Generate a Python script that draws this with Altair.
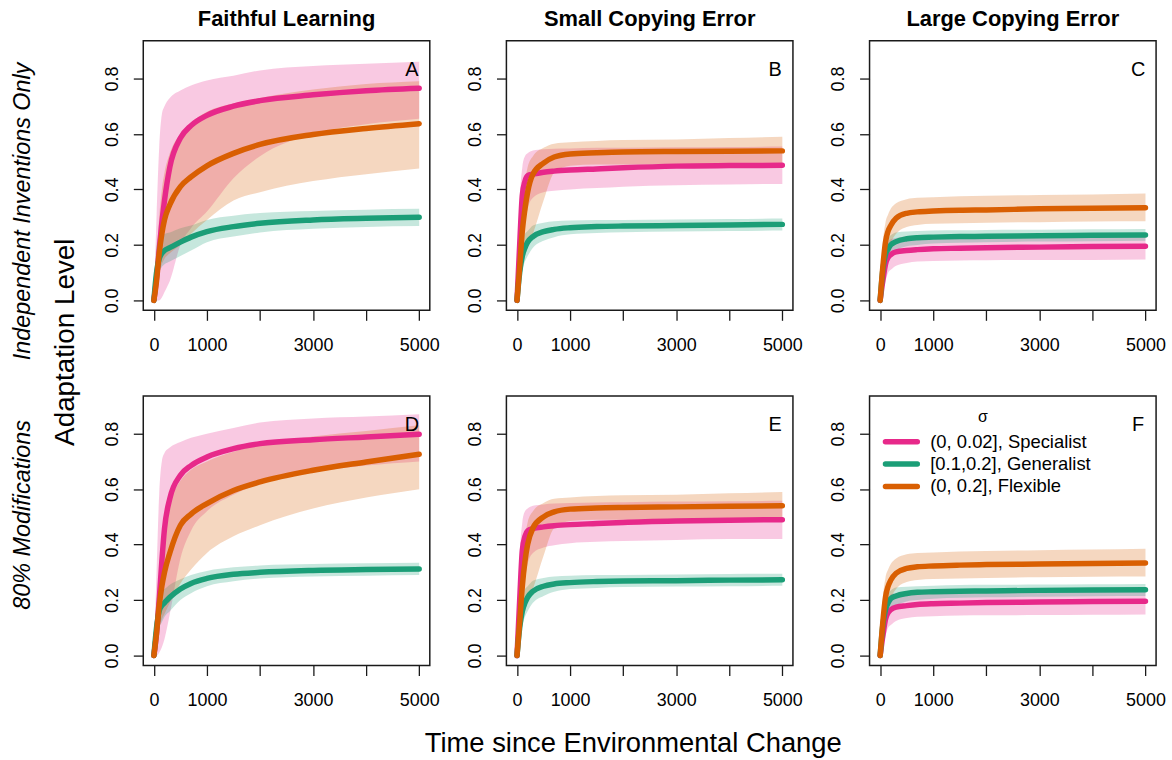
import altair as alt
import pandas as pd

FONT = "Liberation Sans"

# ---------------- data ----------------
T = [0, 50, 100, 150, 200, 300, 500, 700, 1000, 1500, 2000, 3000, 4000, 5000]
SERIES = ["(0, 0.02], Specialist", "[0.1,0.2], Generalist", "(0, 0.2], Flexible"]
COLORS = ["#E7298A", "#1B9E77", "#D95F02"]
COLUMN_TITLES = ["Faithful Learning", "Small Copying Error", "Large Copying Error"]
ROW_TITLES = ["Independent Inventions Only", "80% Modifications"]
LETTERS = ["A", "B", "C", "D", "E", "F"]
X_TICKS = [0, 1000, 2000, 3000, 4000, 5000]
X_LABELED = [0, 1000, 3000, 5000]
Y_TICKS = [0.0, 0.2, 0.4, 0.6, 0.8]
Y_TITLE = "Adaptation Level"
X_TITLE = "Time since Environmental Change"
LEGEND_TITLE = "σ"

# Panel A: Faithful Learning / Independent Inventions Only
A_spec    = [0, 0.08, 0.18, 0.28, 0.36, 0.48, 0.585, 0.63, 0.667, 0.70, 0.72, 0.741, 0.756, 0.765]
A_spec_lo = [0, 0.00, 0.00, 0.01, 0.03, 0.07, 0.20, 0.26, 0.32, 0.44, 0.52, 0.60, 0.635, 0.655]
A_spec_hi = [0, 0.30, 0.55, 0.67, 0.70, 0.73, 0.757, 0.775, 0.793, 0.81, 0.829, 0.845, 0.853, 0.86]
A_gen     = [0, 0.10, 0.15, 0.17, 0.18, 0.19, 0.21, 0.228, 0.248, 0.266, 0.278, 0.29, 0.296, 0.30]
A_gen_lo  = [0, 0.05, 0.10, 0.12, 0.13, 0.14, 0.16, 0.18, 0.21, 0.23, 0.245, 0.258, 0.265, 0.268]
A_gen_hi  = [0, 0.20, 0.23, 0.235, 0.24, 0.245, 0.26, 0.27, 0.29, 0.305, 0.315, 0.322, 0.327, 0.33]
A_flex    = [0, 0.07, 0.17, 0.24, 0.29, 0.345, 0.41, 0.445, 0.485, 0.53, 0.562, 0.598, 0.62, 0.637]
A_flex_lo = [0, 0.03, 0.10, 0.13, 0.15, 0.17, 0.20, 0.24, 0.29, 0.36, 0.39, 0.43, 0.455, 0.475]
A_flex_hi = [0, 0.15, 0.30, 0.40, 0.46, 0.53, 0.60, 0.64, 0.68, 0.71, 0.73, 0.76, 0.78, 0.79]

# Panel B: Small Copying Error / Independent Inventions Only
B_spec    = [0, 0.20, 0.38, 0.43, 0.45, 0.455, 0.462, 0.466, 0.47, 0.474, 0.478, 0.484, 0.486, 0.487]
B_spec_lo = [0, 0.08, 0.20, 0.28, 0.33, 0.37, 0.39, 0.395, 0.40, 0.405, 0.41, 0.415, 0.418, 0.42]
B_spec_hi = [0, 0.35, 0.48, 0.52, 0.53, 0.54, 0.545, 0.547, 0.548, 0.55, 0.55, 0.552, 0.553, 0.555]
B_gen     = [0, 0.10, 0.16, 0.19, 0.21, 0.23, 0.248, 0.256, 0.262, 0.266, 0.268, 0.27, 0.272, 0.274]
B_gen_lo  = [0, 0.06, 0.11, 0.14, 0.16, 0.19, 0.215, 0.228, 0.238, 0.243, 0.246, 0.248, 0.25, 0.252]
B_gen_hi  = [0, 0.18, 0.22, 0.24, 0.25, 0.27, 0.28, 0.285, 0.288, 0.29, 0.29, 0.292, 0.293, 0.295]
B_flex    = [0, 0.12, 0.25, 0.33, 0.39, 0.455, 0.495, 0.517, 0.528, 0.532, 0.535, 0.537, 0.538, 0.539]
B_flex_lo = [0, 0.05, 0.12, 0.16, 0.19, 0.24, 0.36, 0.46, 0.485, 0.49, 0.49, 0.49, 0.49, 0.49]
B_flex_hi = [0, 0.20, 0.35, 0.43, 0.48, 0.52, 0.55, 0.565, 0.57, 0.575, 0.578, 0.58, 0.585, 0.59]

# Panel C: Large Copying Error / Independent Inventions Only
C_spec    = [0, 0.07, 0.13, 0.155, 0.165, 0.175, 0.18, 0.183, 0.186, 0.188, 0.19, 0.192, 0.194, 0.195]
C_spec_lo = [0, 0.03, 0.07, 0.10, 0.11, 0.125, 0.135, 0.14, 0.142, 0.144, 0.145, 0.146, 0.146, 0.147]
C_spec_hi = [0, 0.12, 0.19, 0.21, 0.22, 0.225, 0.23, 0.232, 0.234, 0.236, 0.237, 0.238, 0.239, 0.24]
C_gen     = [0, 0.11, 0.165, 0.185, 0.20, 0.212, 0.222, 0.226, 0.228, 0.23, 0.231, 0.233, 0.235, 0.236]
C_gen_lo  = [0, 0.06, 0.12, 0.15, 0.165, 0.18, 0.195, 0.20, 0.205, 0.208, 0.21, 0.212, 0.213, 0.215]
C_gen_hi  = [0, 0.18, 0.21, 0.225, 0.235, 0.245, 0.248, 0.25, 0.252, 0.253, 0.254, 0.255, 0.256, 0.257]
C_flex    = [0, 0.12, 0.21, 0.25, 0.27, 0.296, 0.314, 0.319, 0.322, 0.325, 0.326, 0.33, 0.332, 0.334]
C_flex_lo = [0, 0.06, 0.14, 0.19, 0.21, 0.24, 0.265, 0.272, 0.276, 0.278, 0.28, 0.282, 0.284, 0.285]
C_flex_hi = [0, 0.20, 0.28, 0.31, 0.33, 0.35, 0.365, 0.37, 0.372, 0.375, 0.377, 0.38, 0.382, 0.385]

# Panel D: Faithful Learning / 80% Modifications
D_spec    = [0, 0.08, 0.20, 0.34, 0.457, 0.566, 0.65, 0.685, 0.716, 0.746, 0.764, 0.778, 0.788, 0.798]
D_spec_lo = [0, 0.00, 0.01, 0.03, 0.06, 0.15, 0.35, 0.45, 0.52, 0.58, 0.62, 0.66, 0.685, 0.70]
D_spec_hi = [0, 0.30, 0.58, 0.70, 0.73, 0.75, 0.77, 0.785, 0.80, 0.82, 0.84, 0.855, 0.862, 0.87]
D_gen     = [0, 0.10, 0.16, 0.18, 0.19, 0.21, 0.24, 0.26, 0.278, 0.293, 0.30, 0.307, 0.31, 0.312]
D_gen_lo  = [0, 0.05, 0.10, 0.12, 0.14, 0.16, 0.20, 0.225, 0.25, 0.268, 0.278, 0.285, 0.288, 0.29]
D_gen_hi  = [0, 0.20, 0.23, 0.235, 0.24, 0.255, 0.275, 0.29, 0.305, 0.318, 0.325, 0.33, 0.333, 0.335]
D_flex    = [0, 0.08, 0.18, 0.25, 0.30, 0.37, 0.47, 0.51, 0.548, 0.595, 0.626, 0.668, 0.698, 0.726]
D_flex_lo = [0, 0.03, 0.10, 0.13, 0.15, 0.19, 0.26, 0.31, 0.37, 0.43, 0.47, 0.53, 0.57, 0.60]
D_flex_hi = [0, 0.16, 0.30, 0.40, 0.47, 0.55, 0.63, 0.67, 0.70, 0.735, 0.76, 0.79, 0.81, 0.83]

# Panel E: Small Copying Error / 80% Modifications
E_spec    = [0, 0.20, 0.38, 0.43, 0.45, 0.458, 0.464, 0.468, 0.472, 0.476, 0.48, 0.485, 0.488, 0.49]
E_spec_lo = [0, 0.08, 0.20, 0.28, 0.33, 0.37, 0.39, 0.398, 0.405, 0.41, 0.413, 0.417, 0.42, 0.42]
E_spec_hi = [0, 0.35, 0.48, 0.52, 0.53, 0.54, 0.545, 0.548, 0.55, 0.552, 0.553, 0.555, 0.556, 0.558]
E_gen     = [0, 0.10, 0.16, 0.19, 0.21, 0.232, 0.25, 0.258, 0.263, 0.267, 0.269, 0.27, 0.272, 0.273]
E_gen_lo  = [0, 0.06, 0.11, 0.14, 0.16, 0.19, 0.215, 0.23, 0.24, 0.244, 0.247, 0.249, 0.25, 0.252]
E_gen_hi  = [0, 0.18, 0.22, 0.24, 0.25, 0.27, 0.28, 0.285, 0.288, 0.29, 0.29, 0.292, 0.294, 0.295]
E_flex    = [0, 0.12, 0.25, 0.34, 0.40, 0.46, 0.50, 0.518, 0.528, 0.532, 0.534, 0.536, 0.538, 0.54]
E_flex_lo = [0, 0.05, 0.12, 0.16, 0.19, 0.24, 0.36, 0.46, 0.485, 0.49, 0.49, 0.49, 0.49, 0.49]
E_flex_hi = [0, 0.20, 0.35, 0.43, 0.48, 0.52, 0.55, 0.565, 0.57, 0.575, 0.578, 0.58, 0.585, 0.59]

# Panel F: Large Copying Error / 80% Modifications
F_spec    = [0, 0.07, 0.13, 0.155, 0.165, 0.175, 0.18, 0.184, 0.187, 0.189, 0.191, 0.193, 0.195, 0.196]
F_spec_lo = [0, 0.03, 0.07, 0.10, 0.11, 0.125, 0.135, 0.14, 0.142, 0.144, 0.145, 0.146, 0.147, 0.148]
F_spec_hi = [0, 0.12, 0.19, 0.21, 0.22, 0.225, 0.23, 0.232, 0.234, 0.236, 0.237, 0.238, 0.239, 0.24]
F_gen     = [0, 0.11, 0.165, 0.19, 0.205, 0.215, 0.224, 0.228, 0.23, 0.232, 0.233, 0.235, 0.236, 0.237]
F_gen_lo  = [0, 0.06, 0.12, 0.15, 0.165, 0.18, 0.195, 0.20, 0.205, 0.208, 0.21, 0.212, 0.214, 0.215]
F_gen_hi  = [0, 0.18, 0.21, 0.225, 0.235, 0.245, 0.248, 0.25, 0.252, 0.254, 0.255, 0.256, 0.257, 0.258]
F_flex    = [0, 0.12, 0.21, 0.25, 0.272, 0.297, 0.314, 0.32, 0.323, 0.326, 0.328, 0.33, 0.332, 0.334]
F_flex_lo = [0, 0.06, 0.14, 0.19, 0.21, 0.24, 0.265, 0.272, 0.276, 0.278, 0.28, 0.282, 0.284, 0.285]
F_flex_hi = [0, 0.20, 0.28, 0.31, 0.33, 0.35, 0.365, 0.37, 0.372, 0.375, 0.377, 0.38, 0.382, 0.385]

PANEL_DATA = {
    "A": [(A_spec, A_spec_lo, A_spec_hi), (A_gen, A_gen_lo, A_gen_hi), (A_flex, A_flex_lo, A_flex_hi)],
    "B": [(B_spec, B_spec_lo, B_spec_hi), (B_gen, B_gen_lo, B_gen_hi), (B_flex, B_flex_lo, B_flex_hi)],
    "C": [(C_spec, C_spec_lo, C_spec_hi), (C_gen, C_gen_lo, C_gen_hi), (C_flex, C_flex_lo, C_flex_hi)],
    "D": [(D_spec, D_spec_lo, D_spec_hi), (D_gen, D_gen_lo, D_gen_hi), (D_flex, D_flex_lo, D_flex_hi)],
    "E": [(E_spec, E_spec_lo, E_spec_hi), (E_gen, E_gen_lo, E_gen_hi), (E_flex, E_flex_lo, E_flex_hi)],
    "F": [(F_spec, F_spec_lo, F_spec_hi), (F_gen, F_gen_lo, F_gen_hi), (F_flex, F_flex_lo, F_flex_hi)],
}

# ---------------- layout ----------------
W, H = 288, 271
HSPACE, VSPACE = 77, 86
LABEL_EXPR = f"indexof({X_LABELED}, datum.value) >= 0 ? datum.label : ''"
COLOR_SCALE = alt.Scale(domain=SERIES, range=COLORS)


def make_panel(idx):
    letter = LETTERS[idx]
    row, col = divmod(idx, 3)
    recs = []
    for k, (m, lo, hi) in enumerate(PANEL_DATA[letter]):
        for t, a, b, c in zip(T, m, lo, hi):
            recs.append({"t": t, "series": SERIES[k], "k": k, "mean": a, "lo": b, "hi": c})
    df = pd.DataFrame(recs)

    xkw = dict(values=X_TICKS, format="d", labelExpr=LABEL_EXPR, labelOverlap=False,
               labelFlush=False, labelPadding=16)
    if row == 1 and col == 1:
        x_axis = alt.Axis(title=X_TITLE, titleX=127, titleY=86, titleFontSize=27.5,
                          titleFontWeight="normal", titleBaseline="alphabetic",
                          titleAlign="center", **xkw)
    else:
        x_axis = alt.Axis(title=None, **xkw)

    ykw = dict(values=Y_TICKS, format=".1f", labelAngle=270, labelAlign="center",
               labelBaseline="bottom", labelPadding=12, labelOverlap=False, labelFlush=False)
    if col == 0:
        y_axis = alt.Axis(title=ROW_TITLES[row], titleFontStyle="italic", titleFontSize=23.5,
                          titleFontWeight="normal", titleX=-121,
                          titleY=(171 if row == 0 else 119), titleAngle=270,
                          titleAlign="center", titleBaseline="middle", **ykw)
    else:
        y_axis = alt.Axis(title=None, **ykw)

    xs = alt.Scale(domain=[-200, 5200], nice=False, zero=False)
    ys = alt.Scale(domain=[-0.036, 0.936], nice=False, zero=False)
    X = alt.X("t:Q", scale=xs, axis=x_axis)

    base = alt.Chart(df)
    bands = base.mark_area(opacity=0.25, interpolate="monotone").encode(
        x=X,
        y=alt.Y("lo:Q", scale=ys, axis=y_axis),
        y2="hi:Q",
        fill=alt.Fill("series:N", scale=COLOR_SCALE, legend=None),
        detail="k:O",
    )
    lines = base.mark_line(strokeWidth=5.5, strokeCap="round", strokeJoin="round",
                           interpolate="monotone").encode(
        x=X,
        y=alt.Y("mean:Q", scale=ys, axis=(None if letter == "F" else y_axis)),
        color=alt.Color("series:N", scale=COLOR_SCALE, legend=None),
        detail="k:O",
    )
    lab = alt.Chart(pd.DataFrame({"lab": [letter]})).mark_text(
        font=FONT, fontSize=20, align="center", baseline="alphabetic", color="black"
    ).encode(text="lab:N", x=alt.value(270), y=alt.value(35))

    layers = [bands, lines, lab]
    if idx == 0:
        ytitle = alt.Chart(pd.DataFrame({"lab": [Y_TITLE]})).mark_text(
            font=FONT, fontSize=28, angle=270, align="center", baseline="middle", color="black"
        ).encode(text="lab:N", x=alt.value(-78), y=alt.value(303))
        layers.append(ytitle)

    if letter == "F":
        # legend drawn inside panel F, entries placed by an ordinal point scale
        legdf = pd.DataFrame({"series": SERIES, "k": [0, 1, 2]})
        ly = alt.Y("k:O", scale=alt.Scale(type="point", domain=[0, 1, 2], range=[46, 91],
                                          padding=0), axis=None)
        leg_lines = alt.Chart(legdf).mark_rule(strokeWidth=5.5, strokeCap="round").encode(
            x=alt.value(16), x2=alt.value(48), y=ly,
            color=alt.Color("series:N", scale=COLOR_SCALE, legend=None),
        )
        leg_text = alt.Chart(legdf).mark_text(
            font=FONT, fontSize=18.5, align="left", baseline="middle", color="black"
        ).encode(x=alt.value(61), y=ly, text="series:N")
        leg_title = alt.Chart(pd.DataFrame({"lab": [LEGEND_TITLE]})).mark_text(
            font=FONT, fontSize=16, align="center", baseline="middle", color="black"
        ).encode(text="lab:N", x=alt.value(114), y=alt.value(21))
        layers += [leg_lines, leg_text, leg_title]

    props = dict(width=W, height=H)
    if row == 0:
        props["title"] = alt.Title(COLUMN_TITLES[col], font=FONT, fontSize=22,
                                   fontWeight="bold", color="black", offset=10,
                                   anchor="middle")
    ch = alt.layer(*layers).properties(**props)
    if letter == "F":
        ch = ch.resolve_scale(y="independent")
    return ch


panels = [make_panel(i) for i in range(6)]

chart = alt.concat(
    *panels, columns=3, spacing={"row": VSPACE, "column": HSPACE}, bounds="flush"
).resolve_scale(
    fill="independent", color="independent"
).properties(
    padding={"left": 10, "top": 5, "right": 5, "bottom": 5}
).configure(
    font=FONT,
).configure_view(
    stroke="#1a1a1a", strokeWidth=1.5
).configure_axis(
    labelFont=FONT, labelFontSize=18, labelColor="black",
    titleFont=FONT, titleColor="black",
    tickColor="#1a1a1a", tickSize=10, tickWidth=1.3,
    domain=False, grid=False,
)

chart.save("out.html", embed_options={"renderer": "svg", "actions": False})
